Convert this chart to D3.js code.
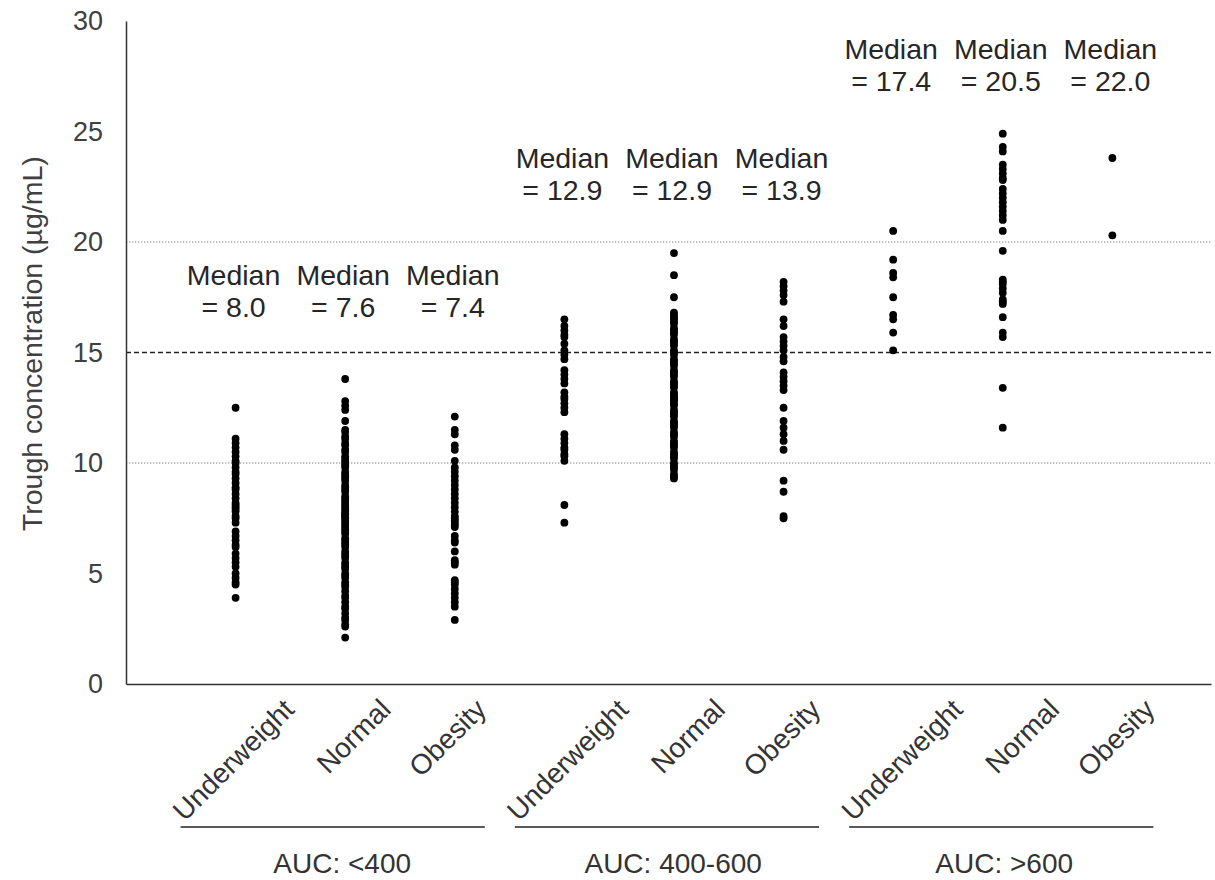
<!DOCTYPE html>
<html>
<head>
<meta charset="utf-8">
<script src="https://cdn.jsdelivr.net/npm/d3@7"></script>
<style>
  html, body { margin: 0; padding: 0; background: #fff; }
  svg { display: block; font-family: "Liberation Sans", Arial, sans-serif; }
</style>
</head>
<body>
<div id="chart"></div>
<script>
/** AUC groups and BMI classes */
const aucGroups = ["AUC: <400", "AUC: 400-600", "AUC: >600"];
const bmiClasses = ["Underweight", "Normal", "Obesity"];

/** medians printed above each column */
const medians = [
  [8.0, 7.6, 7.4],
  [12.9, 12.9, 13.9],
  [17.4, 20.5, 22.0],
];

/** y ticks and reference lines */
const yTicks = [0, 5, 10, 15, 20, 25, 30];
const dottedLines = [10, 20];
const dashedLines = [15];

/** trough concentrations, AUC <400 */
const low_underweight = [12.5, 11.1, 10.9, 10.7, 10.5, 10.3, 10.1, 10.0, 9.8, 9.6, 9.5, 9.3, 9.1, 8.9, 8.8, 8.6, 8.4, 8.2, 8.1, 8.0, 7.9, 7.8, 7.6, 7.5, 7.3, 6.9, 6.7, 6.5, 6.3, 6.2, 5.9, 5.7, 5.5, 5.3, 5.0, 4.8, 4.6, 4.5, 3.9];
const low_normal = [13.8, 12.8, 12.6, 12.4, 11.9, 11.5, 11.4, 11.2, 11.1, 10.9, 10.8, 10.6, 10.5, 10.3, 10.2, 10.1, 10.0, 9.9, 9.8, 9.6, 9.5, 9.4, 9.3, 9.2, 9.0, 8.9, 8.8, 8.7, 8.5, 8.4, 8.3, 8.2, 8.1, 8.0, 7.9, 7.8, 7.7, 7.7, 7.6, 7.6, 7.5, 7.4, 7.3, 7.2, 7.1, 7.0, 6.9, 6.8, 6.6, 6.5, 6.4, 6.3, 6.2, 6.0, 5.9, 5.8, 5.7, 5.5, 5.4, 5.3, 5.2, 5.0, 4.9, 4.8, 4.6, 4.5, 4.4, 4.2, 4.0, 3.9, 3.7, 3.5, 3.4, 3.2, 3.0, 2.9, 2.7, 2.6, 2.1];
const low_obesity = [12.1, 11.5, 11.3, 10.8, 10.6, 10.1, 9.8, 9.6, 9.4, 9.2, 9.0, 8.8, 8.6, 8.4, 8.2, 8.0, 7.8, 7.6, 7.5, 7.4, 7.3, 7.2, 7.1, 6.7, 6.5, 6.4, 6.0, 5.6, 5.5, 5.4, 4.7, 4.6, 4.5, 4.3, 4.1, 3.9, 3.7, 3.5, 2.9];

/** AUC 400-600 */
const mid_underweight = [16.5, 16.2, 16.0, 15.8, 15.7, 15.4, 15.1, 14.9, 14.7, 14.2, 14.0, 13.8, 13.6, 13.2, 13.0, 12.9, 12.7, 12.5, 12.3, 11.3, 11.1, 10.9, 10.7, 10.6, 10.4, 10.3, 10.1, 8.1, 7.3];
const mid_normal = [19.5, 18.5, 17.5, 16.8, 16.7, 16.6, 16.5, 16.4, 16.3, 16.1, 16.0, 15.9, 15.8, 15.6, 15.5, 15.4, 15.3, 15.1, 15.0, 14.9, 14.7, 14.6, 14.5, 14.4, 14.2, 14.1, 14.0, 13.9, 13.7, 13.6, 13.5, 13.4, 13.2, 13.1, 13.0, 12.9, 12.9, 12.8, 12.7, 12.6, 12.4, 12.3, 12.2, 12.1, 11.9, 11.8, 11.7, 11.6, 11.4, 11.3, 11.2, 11.0, 10.9, 10.8, 10.7, 10.5, 10.4, 10.3, 10.2, 10.0, 9.9, 9.8, 9.7, 9.5, 9.4, 9.3];
const mid_obesity = [18.2, 18.0, 17.8, 17.6, 17.3, 16.5, 16.2, 15.7, 15.5, 15.3, 15.1, 14.8, 14.6, 14.1, 13.9, 13.7, 13.5, 13.3, 12.5, 11.9, 11.6, 11.3, 11.0, 10.6, 9.2, 8.7, 7.6, 7.5];

/** AUC >600 */
const high_underweight = [20.5, 19.2, 18.6, 18.4, 17.5, 16.7, 16.5, 15.9, 15.1];
const high_normal = [24.9, 24.3, 24.1, 23.5, 23.3, 23.1, 22.9, 22.8, 22.4, 22.2, 22.0, 21.8, 21.6, 21.4, 21.2, 21.0, 20.5, 19.6, 18.3, 18.2, 18.1, 17.9, 17.7, 17.4, 17.3, 17.2, 16.6, 15.9, 15.7, 13.4, 11.6];
const high_obesity = [23.8, 20.3];

/** columns, in plotting order */
const columns = [
  low_underweight, low_normal, low_obesity,
  mid_underweight, mid_normal, mid_obesity,
  high_underweight, high_normal, high_obesity,
];

/** chart size */
const width = 1215;
const height = 880;
const margin = { top: 21, right: 4, bottom: 196, left: 126 };

const svg = d3
  .select("#chart")
  .append("svg")
  .attr("width", width)
  .attr("height", height);

/** x transform: column positions 1..9 */
const xScale = d3
  .scaleLinear()
  .domain([0, 9.9])
  .range([margin.left, width - margin.right]);

/** y transform */
const yScale = d3
  .scaleLinear()
  .domain([0, 30])
  .range([height - margin.bottom, margin.top]);

/** reference lines */
for (const v of dottedLines)
  svg
    .append("line")
    .attr("x1", xScale(0))
    .attr("x2", xScale(9.9))
    .attr("y1", yScale(v))
    .attr("y2", yScale(v))
    .attr("stroke", "#808080")
    .attr("stroke-width", 1.2)
    .attr("stroke-dasharray", "1.3 1.7");
for (const v of dashedLines)
  svg
    .append("line")
    .attr("x1", xScale(0))
    .attr("x2", xScale(9.9))
    .attr("y1", yScale(v))
    .attr("y2", yScale(v))
    .attr("stroke", "#222")
    .attr("stroke-width", 1.3)
    .attr("stroke-dasharray", "5 3");

/** y axis */
const yAxis = d3.axisLeft(yScale).tickValues(yTicks).tickSize(0).tickPadding(23);
const yG = svg
  .append("g")
  .attr("transform", `translate(${margin.left}, 0)`)
  .call(yAxis);
yG.select(".domain").attr("stroke", "#333").attr("stroke-width", 1.5);
yG.selectAll("text")
  .attr("font-size", 27)
  .attr("font-family", "Liberation Sans, Arial, sans-serif")
  .attr("fill", "#404040");

/** x axis line */
const xAxis = d3.axisBottom(xScale).tickValues([]).tickSize(0);
const xG = svg
  .append("g")
  .attr("transform", `translate(0, ${yScale(0)})`)
  .call(xAxis);
xG.select(".domain").attr("stroke", "#333").attr("stroke-width", 1.5);

/** y axis title */
svg
  .append("text")
  .text("Trough concentration (µg/mL)")
  .attr("transform", `translate(32, ${yScale(15.4)}) rotate(-90)`)
  .attr("text-anchor", "middle")
  .attr("dominant-baseline", "central")
  .attr("font-size", 28.5)
  .attr("fill", "#404040");

/** points */
columns.forEach((values, i) => {
  svg
    .append("g")
    .selectAll("circle")
    .data(values)
    .join("circle")
    .attr("cx", xScale(i + 1))
    .attr("cy", (d) => yScale(d))
    .attr("r", 3.9)
    .attr("fill", "#000");
});

/** median annotations, placed a little above each group */
const labelLevel = [16.6, 21.9, 26.85];
aucGroups.forEach((group, g) => {
  bmiClasses.forEach((bmi, j) => {
    const x = xScale(g * 3 + j + 1) - 2;
    const t = svg
      .append("text")
      .attr("text-anchor", "middle")
      .attr("font-size", 28.5)
      .attr("fill", "#262626");
    t.append("tspan")
      .attr("x", x)
      .attr("y", yScale(labelLevel[g]) - 32)
      .text("Median");
    t.append("tspan")
      .attr("x", x)
      .attr("y", yScale(labelLevel[g]))
      .text(`= ${medians[g][j].toFixed(1)}`);
  });
});

/** rotated category labels; the group blocks sit slightly wider apart than the columns */
const labelShift = [46, 33, 19];
aucGroups.forEach((group, g) => {
  const spread = g * 5.5;
  bmiClasses.forEach((bmi, j) => {
    const x = xScale(g * 3 + j + 1) + labelShift[j] + spread;
    svg
      .append("text")
      .text(bmi)
      .attr("transform", `translate(${x}, ${yScale(0) + 13}) rotate(-45)`)
      .attr("text-anchor", "end")
      .attr("dominant-baseline", "hanging")
      .attr("font-size", 28)
      .attr("fill", "#333");
  });

  /** group underline and label */
  const x0 = xScale(g * 3 + 1) - 55 + spread;
  const x1 = xScale(g * 3 + 3) + 30 + spread;
  svg
    .append("line")
    .attr("x1", x0)
    .attr("x2", x1)
    .attr("y1", yScale(0) + 143)
    .attr("y2", yScale(0) + 143)
    .attr("stroke", "#222")
    .attr("stroke-width", 1.5);
  svg
    .append("text")
    .text(group)
    .attr("x", xScale(g * 3 + 2) - 3 + spread * 0.4)
    .attr("y", yScale(0) + 189)
    .attr("text-anchor", "middle")
    .attr("font-size", 28)
    .attr("fill", "#333");
});
</script>
</body>
</html>
